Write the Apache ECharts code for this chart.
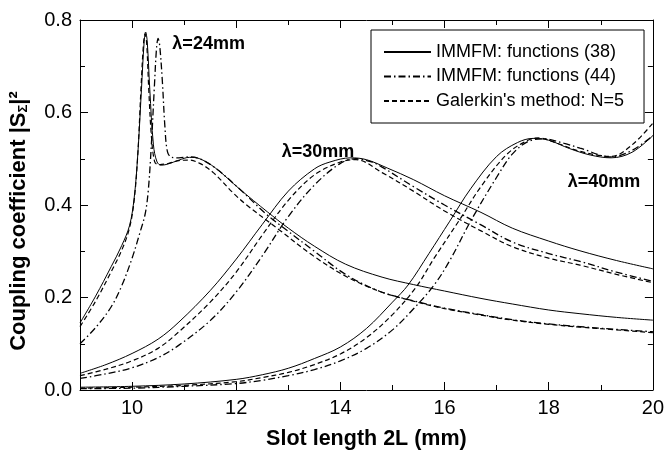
<!DOCTYPE html>
<html>
<head>
<meta charset="utf-8">
<script src="https://cdn.jsdelivr.net/npm/echarts@6/dist/echarts.min.js"></script>
<style>
  html, body { margin: 0; padding: 0; background: #fff; }
  #chart { width: 667px; height: 455px; }
</style>
</head>
<body>
<div id="chart"></div>
<script>
// values: [slot length 2L (mm), |S|^2]
const lam24_38 = [[9.0,0.145],[9.3,0.203],[9.6,0.267],[9.8,0.312],[9.95,0.355],[10.04,0.415],[10.11,0.51],[10.18,0.65],[10.23,0.75],[10.26,0.774],[10.29,0.755],[10.34,0.65],[10.41,0.53],[10.48,0.493],[10.56,0.486],[10.7,0.489],[10.9,0.497],[11.1,0.503],[11.3,0.5],[11.6,0.48],[12.07,0.434],[12.6,0.385],[13.0,0.35],[13.5,0.311],[14.1,0.272],[14.8,0.244],[15.4,0.228],[16.0,0.214],[16.7,0.198],[17.3,0.186],[18.0,0.173],[18.6,0.165],[19.3,0.157],[20.0,0.151]];
const lam24_44 = [[9.0,0.1],[9.3,0.135],[9.6,0.18],[9.8,0.225],[10.0,0.285],[10.15,0.34],[10.25,0.38],[10.31,0.43],[10.37,0.53],[10.43,0.66],[10.47,0.74],[10.5,0.76],[10.53,0.745],[10.58,0.67],[10.63,0.57],[10.68,0.515],[10.76,0.503],[10.9,0.502],[11.1,0.504],[11.3,0.5],[11.6,0.48],[12.07,0.434],[12.6,0.378],[13.0,0.343],[13.5,0.3],[14.1,0.25],[14.76,0.213],[15.4,0.193],[16.0,0.177],[16.7,0.163],[17.3,0.152],[18.0,0.143],[18.6,0.137],[19.3,0.131],[20.0,0.126]];
const lam24_gal = [[9.0,0.137],[9.3,0.192],[9.6,0.256],[9.8,0.302],[9.95,0.35],[10.04,0.41],[10.11,0.51],[10.17,0.65],[10.22,0.75],[10.25,0.77],[10.28,0.75],[10.32,0.65],[10.37,0.55],[10.43,0.495],[10.5,0.487],[10.7,0.49],[10.9,0.496],[11.1,0.497],[11.3,0.49],[11.56,0.47],[11.95,0.425],[12.2,0.4],[12.84,0.345],[13.48,0.29],[14.12,0.245],[14.76,0.213],[15.4,0.192],[16.0,0.176],[16.7,0.162],[17.3,0.151],[18.0,0.142],[18.6,0.136],[19.3,0.13],[20.0,0.124]];

const lam30_38 = [[9.0,0.036],[9.5,0.055],[10.0,0.079],[10.5,0.11],[10.9,0.147],[11.5,0.215],[12.0,0.283],[12.5,0.358],[13.0,0.43],[13.5,0.478],[13.8,0.493],[14.2,0.502],[14.5,0.498],[14.9,0.48],[15.4,0.455],[16.0,0.42],[16.7,0.384],[17.3,0.35],[18.0,0.322],[18.6,0.301],[19.3,0.28],[20.0,0.262]];
const lam30_44 = [[9.0,0.025],[9.5,0.035],[10.0,0.048],[10.5,0.07],[10.9,0.097],[11.5,0.15],[12.0,0.212],[12.5,0.29],[13.0,0.375],[13.5,0.443],[14.0,0.49],[14.3,0.5],[14.6,0.493],[14.8,0.482],[15.4,0.44],[16.0,0.4],[16.7,0.357],[17.3,0.32],[18.0,0.295],[18.6,0.278],[19.3,0.255],[20.0,0.235]];
const lam30_gal = [[9.0,0.031],[9.5,0.045],[10.0,0.063],[10.5,0.09],[10.9,0.126],[11.5,0.19],[12.0,0.255],[12.5,0.335],[13.0,0.41],[13.5,0.465],[14.0,0.493],[14.3,0.498],[14.8,0.47],[15.4,0.43],[16.0,0.387],[16.7,0.344],[17.3,0.31],[18.0,0.285],[18.6,0.27],[19.3,0.25],[20.0,0.232]];

const lam40_38 = [[9.0,0.006],[10.0,0.008],[11.0,0.013],[12.0,0.023],[12.5,0.033],[13.0,0.047],[13.5,0.068],[14.0,0.093],[14.5,0.133],[15.0,0.19],[15.3,0.227],[15.7,0.295],[16.1,0.365],[16.5,0.435],[17.0,0.505],[17.4,0.535],[17.7,0.544],[18.0,0.54],[18.4,0.522],[18.8,0.508],[19.2,0.502],[19.6,0.514],[20.0,0.55]];
const lam40_44 = [[9.0,0.003],[10.0,0.004],[11.0,0.008],[12.0,0.014],[12.5,0.021],[13.0,0.031],[13.5,0.044],[14.0,0.063],[14.5,0.09],[15.0,0.13],[15.4,0.175],[15.8,0.227],[16.1,0.28],[16.5,0.365],[17.0,0.46],[17.3,0.51],[17.6,0.537],[17.9,0.543],[18.3,0.533],[18.6,0.523],[19.2,0.504],[19.6,0.518],[20.0,0.55]];
const lam40_gal = [[9.0,0.004],[10.0,0.006],[11.0,0.01],[12.0,0.018],[12.5,0.027],[13.0,0.038],[13.5,0.055],[14.0,0.078],[14.5,0.113],[15.0,0.163],[15.45,0.222],[15.8,0.285],[16.3,0.37],[16.7,0.44],[17.2,0.51],[17.6,0.54],[17.8,0.545],[18.2,0.532],[18.6,0.516],[19.2,0.505],[19.6,0.53],[20.0,0.577]];

const legendNames = ["IMMFM: functions (38)", "IMMFM: functions (44)", "Galerkin's method: N=5"];
const xMajorTicks = [10, 12, 14, 16, 18, 20];
const xMinorTicks = [11, 13, 15, 17, 19];
const annotations = [
  { name: "λ=24mm", value: [11.47, 0.747] },
  { name: "λ=30mm", value: [13.57, 0.515] },
  { name: "λ=40mm", value: [19.06, 0.449] }
];

const FONT = "Liberation Sans, Arial, sans-serif";
const solid = { color: "#000", width: 1, type: "solid" };
const dashDot = { color: "#000", width: 1.3, type: [7, 3, 1.5, 3] };
const dashed = { color: "#000", width: 1.2, type: [5, 3] };

function curve(name, data, lineStyle) {
  return {
    type: "line",
    name: name,
    data: data,
    xAxisIndex: 0,
    yAxisIndex: 0,
    symbol: "none",
    smooth: 0.35,
    lineStyle: lineStyle,
    itemStyle: { color: "#000" },
    emphasis: { disabled: true },
    z: 3
  };
}

function xAxisBase(position, ticks, length, showLabel, showLine) {
  return {
    type: "value",
    position: position,
    min: 9,
    max: 20,
    axisLine: { show: showLine, onZero: false, lineStyle: { color: "#000", width: 1 } },
    axisTick: { show: true, inside: true, length: length, customValues: ticks, lineStyle: { color: "#000" } },
    axisLabel: { show: showLabel, customValues: ticks, color: "#000", fontSize: 20, fontFamily: FONT, margin: 8 },
    splitLine: { show: false }
  };
}

const chart = echarts.init(document.getElementById("chart"), null, { renderer: "canvas" });

const option = {
  animation: false,
  backgroundColor: "#fff",
  grid: { left: 79, right: 13, top: 20, bottom: 63, containLabel: false },
  legend: {
    data: legendNames,
    orient: "vertical",
    left: 371,
    top: 30,
    padding: [12, 20, 12, 12],
    itemWidth: 47,
    itemHeight: 14,
    itemGap: 4.5,
    borderColor: "#000",
    borderWidth: 1,
    backgroundColor: "#fff",
    itemStyle: { opacity: 0 },
    textStyle: { color: "#000", fontSize: 18, fontFamily: FONT, lineHeight: 20 },
    selectedMode: false
  },
  xAxis: [
    Object.assign(xAxisBase("bottom", xMajorTicks, 8, true, true), {
      name: "Slot length 2L (mm)",
      nameLocation: "middle",
      nameGap: 38,
      nameTextStyle: { color: "#000", fontSize: 21.5, fontWeight: "bold", fontFamily: FONT }
    }),
    xAxisBase("bottom", xMinorTicks, 5, false, false),
    xAxisBase("top", xMajorTicks, 8, false, true),
    xAxisBase("top", xMinorTicks, 5, false, false)
  ],
  yAxis: [
    {
      type: "value",
      position: "left",
      min: 0,
      max: 0.8,
      interval: 0.2,
      name: "Coupling coefficient |S{sub|Σ}|²",
      nameLocation: "middle",
      nameGap: 50,
      nameTextStyle: {
        color: "#000", fontSize: 22, fontWeight: "bold", fontFamily: FONT,
        padding: [0, 32, 0, 0],
        rich: { sub: { fontSize: 13, fontWeight: "bold", fontFamily: FONT, color: "#000", verticalAlign: "bottom", padding: [8, 0, 0, 0] } }
      },
      axisLine: { show: true, onZero: false, lineStyle: { color: "#000", width: 1 } },
      axisTick: { show: true, inside: true, length: 8, lineStyle: { color: "#000" } },
      minorTick: { show: true, splitNumber: 2, length: 5, lineStyle: { color: "#000" } },
      axisLabel: { color: "#000", fontSize: 20, fontFamily: FONT, margin: 8, formatter: v => v.toFixed(1) },
      splitLine: { show: false }
    },
    {
      type: "value",
      position: "right",
      min: 0,
      max: 0.8,
      interval: 0.2,
      axisLine: { show: true, onZero: false, lineStyle: { color: "#000", width: 1 } },
      axisTick: { show: true, inside: true, length: 8, lineStyle: { color: "#000" } },
      minorTick: { show: true, splitNumber: 2, length: 5, lineStyle: { color: "#000" } },
      axisLabel: { show: false },
      splitLine: { show: false }
    }
  ],
  series: [
    curve(legendNames[0], lam24_38, solid),
    curve(legendNames[1], lam24_44, dashDot),
    curve(legendNames[2], lam24_gal, dashed),
    curve(legendNames[0], lam30_38, solid),
    curve(legendNames[1], lam30_44, dashDot),
    curve(legendNames[2], lam30_gal, dashed),
    curve(legendNames[0], lam40_38, solid),
    curve(legendNames[1], lam40_44, dashDot),
    curve(legendNames[2], lam40_gal, dashed),
    {
      type: "scatter",
      name: "labels",
      data: annotations,
      symbolSize: 0,
      silent: true,
      itemStyle: { opacity: 1, color: "#000" },
      label: {
        show: true,
        position: "inside",
        formatter: "{b}",
        color: "#000",
        opacity: 1,
        fontSize: 18,
        fontWeight: "bold",
        fontFamily: FONT
      },
      z: 5
    }
  ]
};

chart.setOption(option);
</script>
</body>
</html>
